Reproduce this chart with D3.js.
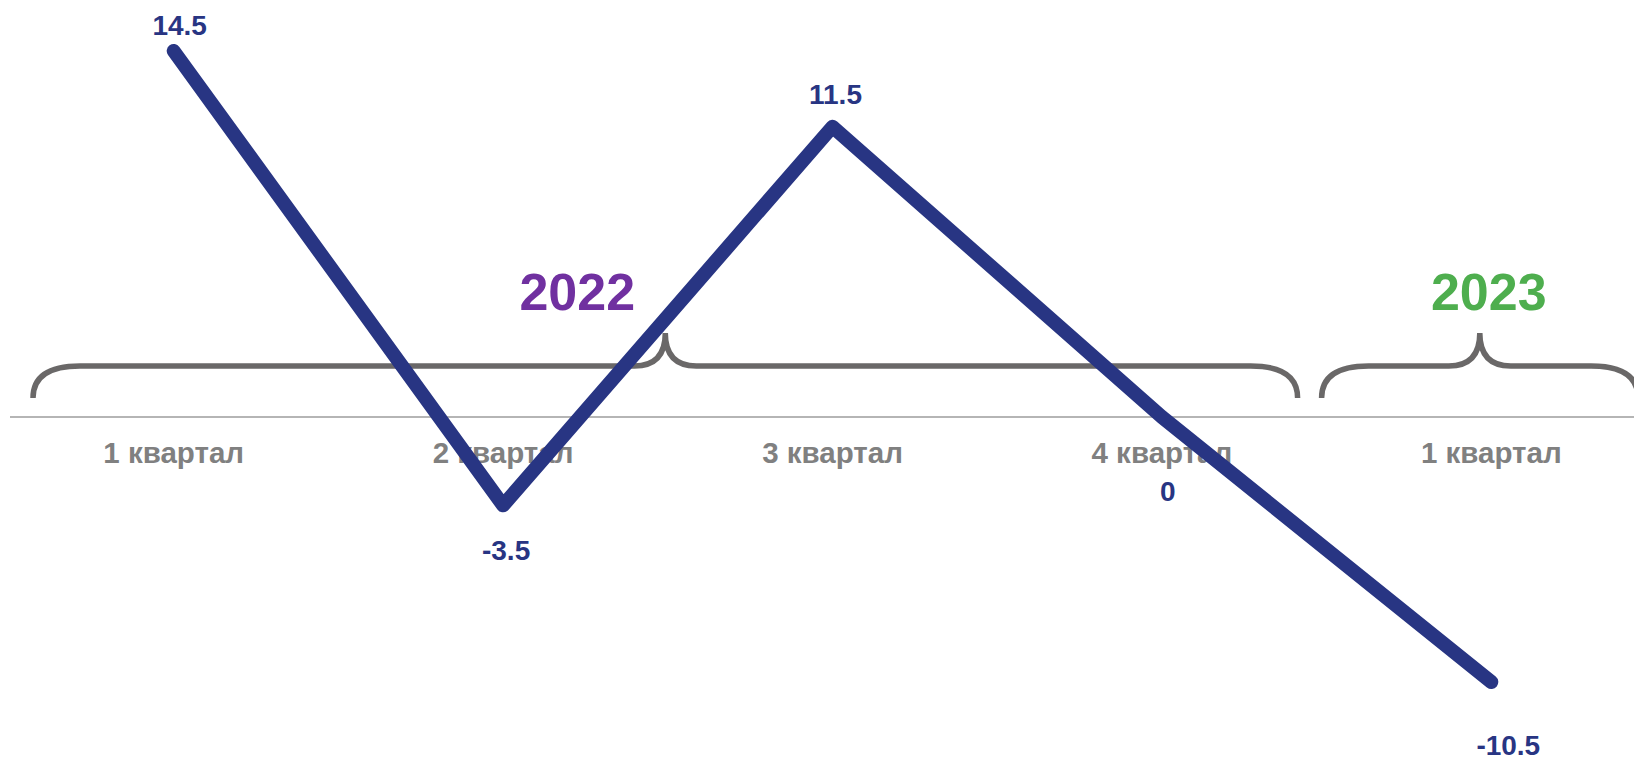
<!DOCTYPE html>
<html>
<head>
<meta charset="utf-8">
<script src="https://cdn.jsdelivr.net/npm/d3@7"></script>
<style>
  html, body { margin: 0; padding: 0; background: #fff; }
  svg { display: block; font-family: "Liberation Sans", Arial, sans-serif; font-weight: bold; }
</style>
</head>
<body>
<script>
// data
const quarters = ['1 квартал', '2 квартал', '3 квартал', '4 квартал', '1 квартал']
const values = [14.5, -3.5, 11.5, 0, -10.5]
const groupYears = ['2022', '2023']
const groupFirst = [0, 4]
const groupLast = [3, 4]

// layout (label nudges as placed in the original)
const labelDx = [6, 3, 3, 6, 17]
const labelDy = [-16, 55, -23, 84, 73]
const braceInset = [[24, 29], [-5, 18]]
const yearDx = [-88, 9]
const yearColors = ['#7030a0', '#4eae4e']

let width = 1634, height = 762
let lineColor = '#283583'

const svg = d3.select('body').append('svg')
    .attr('width', width)
    .attr('height', height)

let idx = d3.range(quarters.length)

let x = d3.scaleBand()
    .domain(idx)
    .range([9, 1656])
    .padding(0)

let cx = i => x(i) + x.bandwidth() / 2

let y = d3.scaleLinear()
    .domain(d3.extent(values))
    .range([682, 51])

let y0 = y(0)

// axis line
svg.append('line')
    .attr('x1', 10)
    .attr('x2', width)
    .attr('y1', y0)
    .attr('y2', y0)
    .attr('stroke', '#9c9c9c')
    .attr('stroke-width', 1.5)

// category labels
svg.append('g')
  .selectAll('text')
  .data(idx)
  .join('text')
    .attr('x', i => cx(i))
    .attr('y', y0 + 46)
    .attr('text-anchor', 'middle')
    .attr('fill', '#808080')
    .style('font-size', '29.5px')
    .text(i => quarters[i])

// braces
function bracePath(x0, x1) {
  let yh = 366, yb = 398, yt = 333
  let r = 47, rt = 31
  let xt = (x0 + x1) / 2
  let p = d3.path()
  p.moveTo(x0, yb)
  p.quadraticCurveTo(x0, yh, x0 + r, yh)
  p.lineTo(xt - rt, yh)
  p.quadraticCurveTo(xt, yh, xt, yt)
  p.quadraticCurveTo(xt, yh, xt + rt, yh)
  p.lineTo(x1 - r, yh)
  p.quadraticCurveTo(x1, yh, x1, yb)
  return p.toString()
}

let groups = d3.range(groupYears.length)
let gx0 = g => x(groupFirst[g]) + braceInset[g][0]
let gx1 = g => x(groupLast[g]) + x.bandwidth() - braceInset[g][1]

svg.append('g')
  .selectAll('path')
  .data(groups)
  .join('path')
    .attr('d', g => bracePath(gx0(g), gx1(g)))
    .attr('fill', 'none')
    .attr('stroke', '#6a6868')
    .attr('stroke-width', 5.5)

svg.append('g')
  .selectAll('text')
  .data(groups)
  .join('text')
    .attr('x', g => (gx0(g) + gx1(g)) / 2 + yearDx[g])
    .attr('y', 310)
    .attr('text-anchor', 'middle')
    .attr('fill', g => yearColors[g])
    .style('font-size', '52px')
    .text(g => groupYears[g])

// line
let line = d3.line()
    .x(i => cx(i))
    .y(i => y(values[i]))

svg.append('path')
    .datum(idx)
    .attr('d', line)
    .attr('fill', 'none')
    .attr('stroke', lineColor)
    .attr('stroke-width', 14)
    .attr('stroke-linecap', 'round')
    .attr('stroke-linejoin', 'round')

// value labels
svg.append('g')
  .selectAll('text')
  .data(idx)
  .join('text')
    .attr('x', i => cx(i) + labelDx[i])
    .attr('y', i => y(values[i]) + labelDy[i])
    .attr('text-anchor', 'middle')
    .attr('fill', lineColor)
    .style('font-size', '28px')
    .text(i => String(values[i]))
</script>
</body>
</html>
